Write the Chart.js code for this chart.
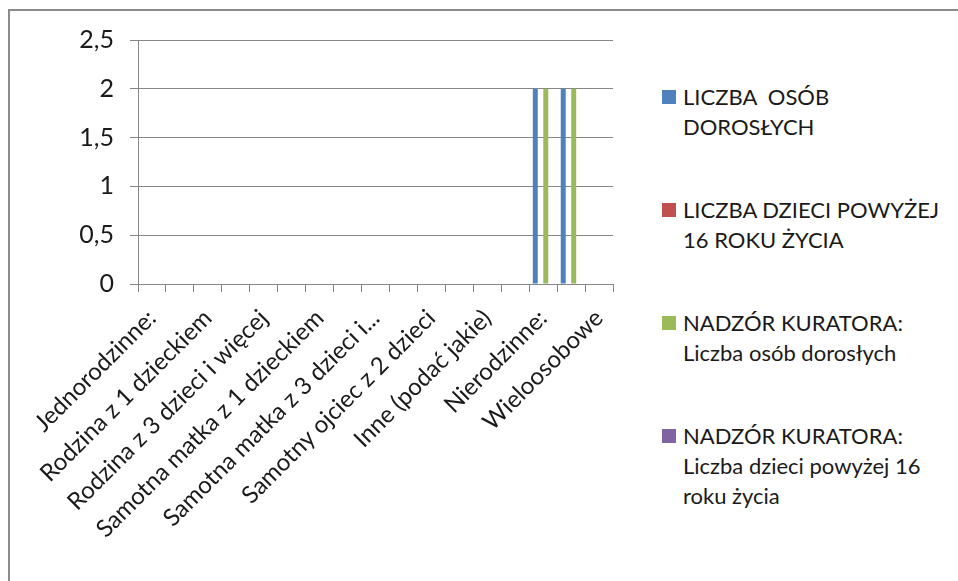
<!DOCTYPE html>
<html>
<head>
<meta charset="utf-8">
<script src="https://cdn.jsdelivr.net/npm/chart.js@4"></script>
<style>
  body { margin: 0; background: #fff; font-family: Lato, sans-serif; }
  #frame { position: absolute; left: 8px; top: 9px; width: 1000px; height: 600px;
           border-left: 2px solid #8c8c8c; border-top: 2px solid #8c8c8c; }
  #chart { position: absolute; left: 0; top: 0; }
  #legend { position: absolute; left: 662px; top: 82px; color: #1a1a1a; font-size: 22px; line-height: 30px; }
  .item { position: relative; padding-left: 21px; margin-bottom: 53px; }
  .box { position: absolute; left: 0; top: 8px; width: 14px; height: 14px; }
</style>
</head>
<body>
<div id="frame"></div>
<canvas id="chart" width="640" height="581"></canvas>
<div id="legend"></div>
<script>
// categories (every other label is hidden on the axis, as in the original)
const categories = [
  "Jednorodzinne:", "Rodzina bez dzieci", "Rodzina z 1 dzieckiem", "Rodzina z 2 dzieci",
  "Rodzina z 3 dzieci i więcej", "Rodzina niepełna:", "Samotna matka z 1 dzieckiem",
  "Samotna matka z 2 dzieci", "Samotna matka z 3 dzieci i...", "Samotny ojciec z 1 dzieckiem",
  "Samotny ojciec z 2 dzieci", "Samotny ojciec z 3 dzieci i...", "Inne (podać jakie)",
  "Wielorodzinne", "Nierodzinne:", "Jednoosobowe", "Wieloosobowe"
];

const seriesNames = [
  ["LICZBA  OSÓB", "DOROSŁYCH"],
  ["LICZBA DZIECI POWYŻEJ", "16 ROKU ŻYCIA"],
  ["NADZÓR KURATORA:", "Liczba osób dorosłych"],
  ["NADZÓR KURATORA:", "Liczba dzieci powyżej 16", "roku życia"]
];
const seriesColors = ["#4F81BD", "#C0504D", "#9BBB59", "#8064A2"];

const adults      = [0,0,0,0,0,0,0,0,0,0,0,0,0,0,2,2,0];
const children16  = [0,0,0,0,0,0,0,0,0,0,0,0,0,0,0,0,0];
const supAdults   = [0,0,0,0,0,0,0,0,0,0,0,0,0,0,2,2,0];
const supChildren = [0,0,0,0,0,0,0,0,0,0,0,0,0,0,0,0,0];
const seriesData = [adults, children16, supAdults, supChildren];

const yTicks = [0, 0.5, 1, 1.5, 2, 2.5];

const gridColor = "#868686";

const chart = new Chart(document.getElementById("chart"), {
  type: "bar",
  data: {
    labels: categories,
    datasets: seriesData.map((d, i) => ({
      label: seriesNames[i].join(" "),
      data: d,
      backgroundColor: seriesColors[i],
      categoryPercentage: 0.75,
      barPercentage: 0.95
    }))
  },
  options: {
    responsive: false,
    animation: false,
    layout: { padding: { left: 78, top: 40, right: 27, bottom: 0 } },
    plugins: { legend: { display: false }, tooltip: { enabled: false } },
    scales: {
      x: {
        offset: true,
        grid: { drawOnChartArea: false, drawTicks: true, tickLength: 8, color: gridColor, offset: true },
        border: { color: gridColor },
        ticks: {
          autoSkip: false, maxRotation: 45, minRotation: 45, color: "#1a1a1a",
          font: { family: "Lato", size: 24 }, padding: 12,
          callback: (v, i) => i % 2 === 0 ? categories[i] : ""
        },
        afterFit: s => { s.height = 297; }
      },
      y: {
        min: 0, max: 2.5,
        afterBuildTicks: s => { s.ticks = yTicks.map(v => ({ value: v })); },
        grid: { color: gridColor, tickLength: 8 },
        border: { color: gridColor },
        ticks: {
          color: "#1a1a1a", font: { family: "Lato", size: 25 }, padding: 16,
          callback: v => String(v).replace(".", ",")
        },
        afterFit: s => { s.width = 60; }
      }
    }
  }
});

const legend = document.getElementById("legend");
chart.data.datasets.forEach((ds, i) => {
  const item = document.createElement("div");
  item.className = "item";
  const box = document.createElement("div");
  box.className = "box";
  box.style.background = ds.backgroundColor;
  item.appendChild(box);
  seriesNames[i].forEach(line => {
    const t = document.createElement("div");
    t.textContent = line;
    t.style.whiteSpace = "pre";
    item.appendChild(t);
  });
  legend.appendChild(item);
});
</script>
</body>
</html>
